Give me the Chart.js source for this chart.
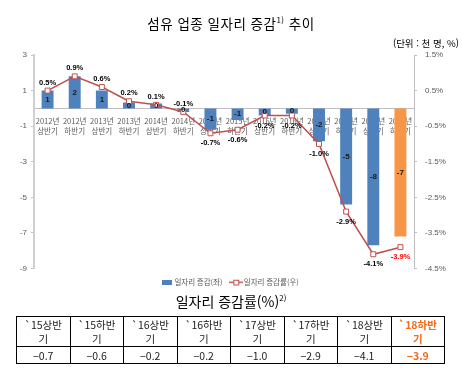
<!DOCTYPE html>
<html lang="ko">
<head>
<meta charset="utf-8">
<script src="https://cdn.jsdelivr.net/npm/chart.js@4.4.1/dist/chart.umd.min.js"></script>
<style>
  html, body { margin: 0; padding: 0; background: #fff; }
  body { width: 462px; height: 373px; position: relative; overflow: hidden;
         font-family: "Noto Sans CJK KR", "Noto Sans", sans-serif; color: #000; }
  #title { position: absolute; left: 0; width: 462px; top: 13px; text-align: center;
           font-size: 13.5px; line-height: 20px; letter-spacing: 0.5px; }
  #title sup, #tableTitle sup { font-size: 8px; vertical-align: 6px; line-height: 0; }
  #unit { position: absolute; right: 3px; top: 36px; font-size: 9.5px; line-height: 14px; }
  #chartWrap { position: absolute; left: 0; top: 0; width: 462px; height: 296px; }
  #tableTitle { position: absolute; left: 0; width: 462px; top: 291px; text-align: center;
                font-size: 14px; line-height: 20px; }
  #rateTable { position: absolute; left: 16px; top: 316px; width: 429px;
               border-collapse: collapse; table-layout: fixed; }
  #rateTable td { border: 1px solid #000; text-align: center; padding: 0;
                  font-family: "Noto Sans CJK KR", sans-serif; font-size: 10.5px; color: #222; }
  #rateTable tr.head td { line-height: 14px; height: 29px; }
  #rateTable tr.vals td { line-height: 15px; height: 16px; }
  #rateTable td.hl { color: #F26A1B; font-weight: bold; }
</style>
</head>
<body>
<div id="chartWrap"><canvas id="chart"></canvas></div>
<div id="title">섬유 업종 일자리 증감<sup>1)</sup> 추이</div>
<div id="unit">(단위 : 천 명, %)</div>
<div id="tableTitle">일자리 증감률(%)<sup>2)</sup></div>
<table id="rateTable"><tbody></tbody></table>

<script>
// 반기별 카테고리 (x축)
const periodYears = ['2012년', '2012년', '2013년', '2013년', '2014년', '2014년', '2015년',
                     '2015년', '2016년', '2016년', '2017년', '2017년', '2018년', '2018년'];
const periodHalves = ['상반기', '하반기', '상반기', '하반기', '상반기', '하반기', '상반기',
                      '하반기', '상반기', '하반기', '상반기', '하반기', '상반기', '하반기'];

// 일자리 증감 (천 명, 좌축)
const jobChange = [1.0, 1.8, 1.0, 0.33, 0.28, -0.2, -1.2, -0.65, -0.4, -0.3, -1.85, -5.4, -7.7, -7.2];

// 일자리 증감률 (%, 우축)
const jobRate = [0.5, 0.9, 0.6, 0.2, 0.1, -0.1, -0.7, -0.6, -0.2, -0.2, -1.0, -2.9, -4.1, -3.9];

// 표 (15년 ~ 18년)
const tableHeads = ['`15상반기', '`15하반기', '`16상반기', '`16하반기',
                    '`17상반기', '`17하반기', '`18상반기', '`18하반기'];
const tableRates = ['−0.7', '−0.6', '−0.2', '−0.2', '−1.0', '−2.9', '−4.1', '−3.9'];

const BAR_COLOR = '#4F81BD';
const BAR_HL_COLOR = '#F79646';
const LINE_COLOR = '#C0504D';
const AXIS_COLOR = '#BFBFBF';
const TICK_COLOR = '#595959';
const LABEL_FONT = '"Liberation Sans", Arial, sans-serif';
const KR_FONT = '"Noto Sans CJK KR", sans-serif';

const lastIdx = jobChange.length - 1;

// legend icons
function makeIcon(w, h, draw) {
  const c = document.createElement('canvas');
  c.width = w; c.height = h;
  draw(c.getContext('2d'));
  return c;
}
const barIcon = makeIcon(10, 5, g => { g.fillStyle = BAR_COLOR; g.fillRect(0, 0, 10, 5); });
const lineIcon = makeIcon(14, 7, g => {
  g.strokeStyle = LINE_COLOR; g.lineWidth = 1.5;
  g.beginPath(); g.moveTo(0, 3.5); g.lineTo(14, 3.5); g.stroke();
  g.fillStyle = '#fff'; g.fillRect(4.5, 1, 5, 5);
  g.lineWidth = 1; g.strokeRect(4.5, 1.5, 5, 4.5);
});

// data labels (no datalabels plugin available)
const valueLabels = {
  id: 'valueLabels',
  afterDatasetsDraw(chart) {
    const ctx = chart.ctx;
    ctx.save();
    ctx.textAlign = 'center';
    ctx.textBaseline = 'middle';

    const barMeta = chart.getDatasetMeta(0);
    ctx.font = 'bold 8px ' + LABEL_FONT;
    ctx.fillStyle = '#1a1a1a';
    barMeta.data.forEach((el, i) => {
      const r = Math.round(jobChange[i]);
      const txt = r === 0 ? '0' : String(r);
      ctx.fillText(txt, el.x, (el.y + el.base) / 2);
    });

    const lineMeta = chart.getDatasetMeta(1);
    ctx.font = 'bold 7.5px ' + LABEL_FONT;
    lineMeta.data.forEach((el, i) => {
      const v = jobRate[i];
      const above = v >= -0.1;
      ctx.fillStyle = i === lastIdx ? '#FF0000' : '#000';
      ctx.fillText(v.toFixed(1) + '%', el.x, above ? el.y - 8 : el.y + 10);
    });
    ctx.restore();
  }
};

const chart = new Chart(document.getElementById('chart'), {
  data: {
    labels: periodYears.map((y, i) => [y, periodHalves[i]]),
    datasets: [
      {
        type: 'bar',
        label: '일자리 증감(좌)',
        data: jobChange,
        yAxisID: 'y',
        backgroundColor: jobChange.map((_, i) => i === lastIdx ? BAR_HL_COLOR : BAR_COLOR),
        barPercentage: 0.44,
        categoryPercentage: 1,
        order: 2
      },
      {
        type: 'line',
        label: '일자리 증감률(우)',
        data: jobRate,
        yAxisID: 'y2',
        borderColor: LINE_COLOR,
        borderWidth: 1.5,
        pointStyle: 'rect',
        pointRadius: 3.5,
        pointBackgroundColor: '#fff',
        pointBorderColor: LINE_COLOR,
        pointBorderWidth: 1,
        tension: 0,
        order: 1
      }
    ]
  },
  options: {
    responsive: true,
    maintainAspectRatio: false,
    animation: false,
    devicePixelRatio: 1,
    layout: { padding: { top: 55, bottom: 0, left: 0, right: 0 } },
    plugins: {
      title: { display: false },
      tooltip: { enabled: false },
      legend: {
        position: 'bottom',
        labels: {
          usePointStyle: true,
          boxWidth: 12,
          boxHeight: 6,
          padding: 10,
          color: TICK_COLOR,
          font: { family: KR_FONT, size: 7.5 },
          sort: (a, b) => a.datasetIndex - b.datasetIndex,
          generateLabels(ch) {
            const items = Chart.defaults.plugins.legend.labels.generateLabels(ch);
            items.forEach(it => { it.pointStyle = it.datasetIndex === 0 ? barIcon : lineIcon; });
            return items;
          }
        }
      }
    },
    scales: {
      x: {
        position: { y: 0 },
        z: 1,
        grid: { display: false, drawTicks: false },
        border: { display: true, color: AXIS_COLOR, width: 1 },
        ticks: {
          padding: 8,
          color: TICK_COLOR,
          maxRotation: 0,
          autoSkip: false,
          font: { family: KR_FONT, size: 7.5, lineHeight: 1.35 }
        }
      },
      y: {
        position: 'left',
        min: -9,
        max: 3,
        grid: { display: true, drawOnChartArea: false, drawTicks: true, tickLength: 3, color: AXIS_COLOR },
        border: { display: true, color: '#D0D0D0', width: 2 },
        ticks: {
          stepSize: 2,
          padding: 4,
          color: TICK_COLOR,
          font: { family: LABEL_FONT, size: 8 }
        },
        afterFit(s) { s.width = 34; }
      },
      y2: {
        position: 'right',
        min: -4.5,
        max: 1.5,
        grid: { display: true, drawOnChartArea: false, drawTicks: true, tickLength: 3, color: AXIS_COLOR },
        border: { display: true, color: AXIS_COLOR, width: 1 },
        ticks: {
          stepSize: 1,
          padding: 8,
          color: TICK_COLOR,
          font: { family: LABEL_FONT, size: 8 },
          callback: v => Number(v).toFixed(1) + '%'
        },
        afterFit(s) { s.width = 48; }
      }
    }
  },
  plugins: [valueLabels]
});

// table
const tbody = document.querySelector('#rateTable tbody');
const headCells = tableHeads.map((h, i) =>
  `<td class="${i === tableHeads.length - 1 ? 'hl' : ''}">${h.slice(0, -1)}<br>${h.slice(-1)}</td>`).join('');
const valCells = tableRates.map((v, i) =>
  `<td class="${i === tableRates.length - 1 ? 'hl' : ''}">${v}</td>`).join('');
tbody.innerHTML = `<tr class="head">${headCells}</tr><tr class="vals">${valCells}</tr>`;
</script>
</body>
</html>
